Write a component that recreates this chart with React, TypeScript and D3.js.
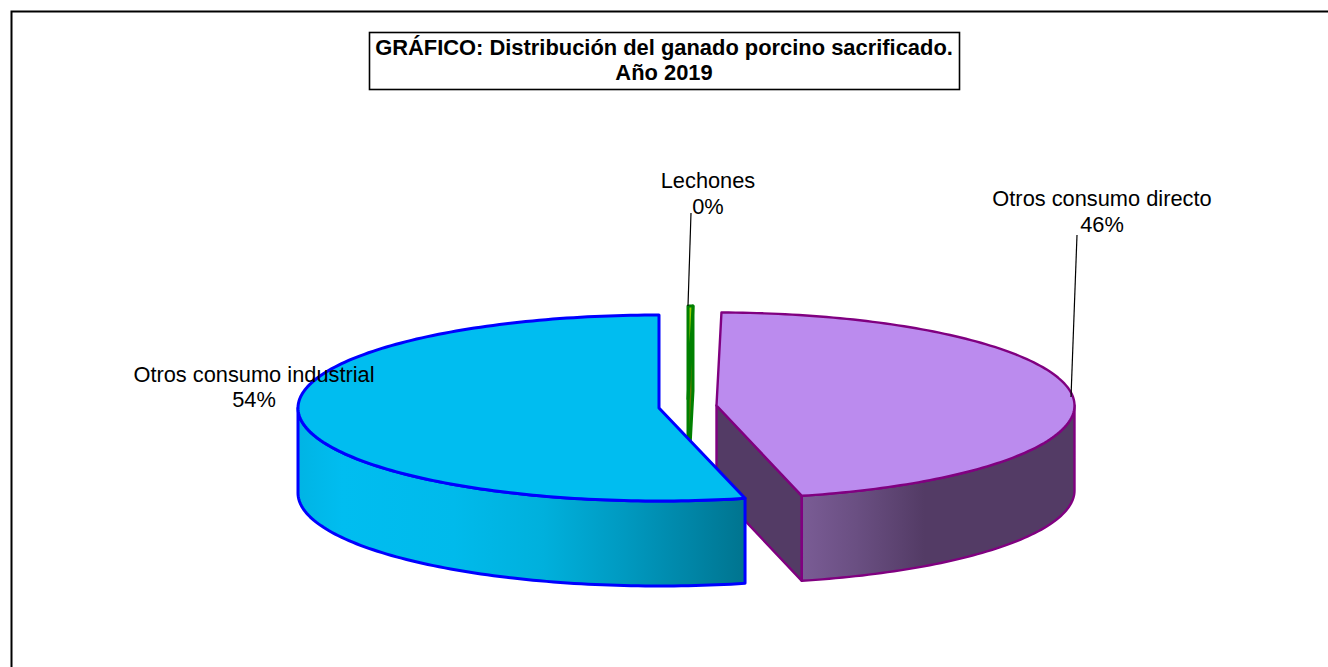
import React from "react";
import * as d3 from "d3";

const categories = ["Lechones", "Otros consumo directo", "Otros consumo industrial"];
const shareValues = [0.22, 45.95, 53.83];
const shownPercent = ["0%", "46%", "54%"];
const titleLines = ["GRÁFICO: Distribución del ganado porcino sacrificado.", "Año 2019"];

const W = 1328, H = 667;
const RY = 93, DEPTH = 85;
const radiiX = [361, 358, 361];
const centers = [
  { x: 688, y: 399 },
  { x: 716.5, y: 405.5 },
  { x: 659, y: 408 },
];
const topFill = ["#9ACD00", "#BB8BEE", "#00BDF0"];
const strokes = ["#008000", "#800080", "#0000FF"];
const strokeW = [3, 2.4, 3];
const sideFill = ["#5f7a00", "#533B65", "url(#blueWall)"];
const labelPos = [
  { x: 708, y: 188, dy: 25.5 },
  { x: 1102, y: 206, dy: 25.5 },
  { x: 254, y: 381.5, dy: 25.5 },
];
const leaders = [
  [[691, 213], [688, 306]],
  [[1077, 235], [1071, 397]],
];

const pie = d3.pie<number>().sort(null).startAngle(0).endAngle(2 * Math.PI);
const slices = pie(shareValues);

const py = d3.scaleLinear().domain([-1, 1]).range([-RY, RY]);
const pt = (i: number, a: number, dz = 0): [number, number] => [
  centers[i].x + radiiX[i] * Math.sin(a),
  centers[i].y - py(Math.cos(a)) + dz,
];
const arcPts = (i: number, a0: number, a1: number, dz = 0): [number, number][] => {
  const n = Math.max(2, Math.ceil(Math.abs(a1 - a0) / 0.02));
  return d3.range(n + 1).map((k) => pt(i, a0 + ((a1 - a0) * k) / n, dz));
};
const line = d3.line();
const closed = (p: [number, number][]) => (line(p) as string) + "Z";

const topPath = (i: number) => {
  const s = slices[i];
  return closed([[centers[i].x, centers[i].y], ...arcPts(i, s.startAngle, s.endAngle)]);
};
const outerWall = (i: number) => {
  const s = slices[i];
  const a0 = Math.max(s.startAngle, Math.PI / 2);
  const a1 = Math.min(s.endAngle, (3 * Math.PI) / 2);
  if (a1 <= a0) return null;
  return closed([...arcPts(i, a0, a1), ...arcPts(i, a1, a0, DEPTH)]);
};
const cutWall = (i: number, a: number) => {
  const [x, y] = pt(i, a);
  const c = centers[i];
  return closed([[c.x, c.y], [x, y], [x, y + DEPTH], [c.x, c.y + DEPTH]]);
};

const font = "'Liberation Sans', Arial, sans-serif";

export default function App() {
  const order = [1, 0, 2];
  return (
    <svg
      width={W}
      height={H}
      viewBox={`0 0 ${W} ${H}`}
      style={{ position: "fixed", left: 0, top: 0, background: "#fff" }}
      fontFamily={font}
    >
      <defs>
        <linearGradient id="blueWall" gradientUnits="userSpaceOnUse" x1={298} x2={745} y1={0} y2={0}>
          <stop offset="0" stopColor="#00B4E4" />
          <stop offset="0.1" stopColor="#00BDF0" />
          <stop offset="0.35" stopColor="#00BAEB" />
          <stop offset="0.55" stopColor="#00B0DC" />
          <stop offset="0.72" stopColor="#009BC2" />
          <stop offset="0.88" stopColor="#0085A6" />
          <stop offset="1" stopColor="#00748F" />
        </linearGradient>
        <linearGradient id="purpleWall" gradientUnits="userSpaceOnUse" x1={802} x2={1074} y1={0} y2={0}>
          <stop offset="0" stopColor="#7A5C95" />
          <stop offset="0.2" stopColor="#6A4F82" />
          <stop offset="0.45" stopColor="#533B65" />
          <stop offset="1" stopColor="#533B65" />
        </linearGradient>
      </defs>

      <path d={`M11.5 ${H}V11.5H${W}`} fill="none" stroke="#000" strokeWidth={2} />

      {order.map((i) => {
        const s = slices[i];
        const wall = outerWall(i);
        const wallFill = i === 1 ? "url(#purpleWall)" : sideFill[i];
        return (
          <g key={categories[i]} strokeLinejoin="round">
            {i !== 2 && (
              <path
                d={cutWall(i, s.endAngle)}
                fill={i === 1 ? "#533B65" : sideFill[i]}
                stroke={strokes[i]}
                strokeWidth={strokeW[i]}
              />
            )}
            {wall && (
              <path d={wall} fill={wallFill} stroke={strokes[i]} strokeWidth={strokeW[i]} />
            )}
            <path d={topPath(i)} fill={topFill[i]} stroke={strokes[i]} strokeWidth={strokeW[i]} />
          </g>
        );
      })}

      {leaders.map((l, i) => (
        <path key={i} d={line(l as [number, number][]) as string} fill="none" stroke="#000" strokeWidth={1.2} />
      ))}

      {categories.map((c, i) => (
        <text key={c} textAnchor="middle" fontSize={21.8} fill="#000">
          <tspan x={labelPos[i].x} y={labelPos[i].y}>{c}</tspan>
          <tspan x={labelPos[i].x} y={labelPos[i].y + labelPos[i].dy}>{shownPercent[i]}</tspan>
        </text>
      ))}

      <rect x={369.5} y={32.5} width={590} height={57} fill="#fff" stroke="#000" strokeWidth={1.6} />
      {titleLines.map((t, i) => (
        <text key={t} x={664} y={55 + i * 25} textAnchor="middle" fontSize={21.9} fontWeight={700} fill="#000">
          {t}
        </text>
      ))}
    </svg>
  );
}
